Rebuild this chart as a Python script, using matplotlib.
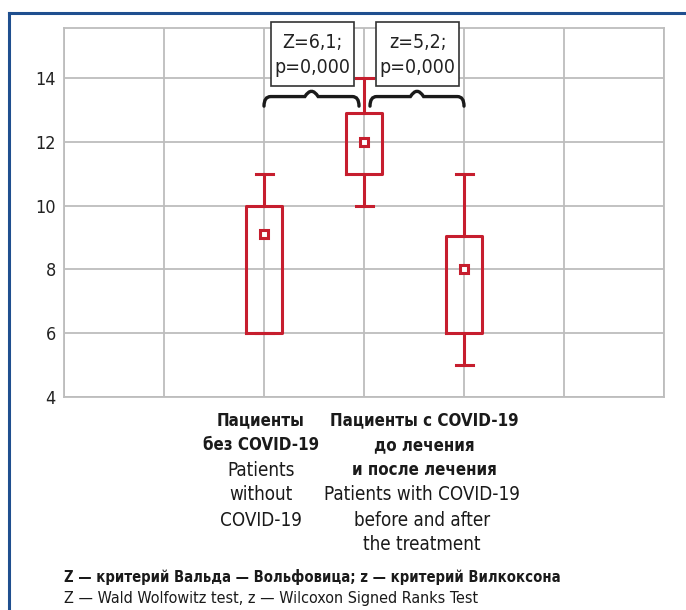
import matplotlib.pyplot as plt
from matplotlib.path import Path
from matplotlib.patches import PathPatch, Rectangle
from matplotlib.lines import Line2D

plt.rcParams['font.family'] = ['DejaVu Sans']
plt.rcParams['font.stretch'] = 'condensed'

# box statistics per group
positions = [2, 3, 4]
whis_lo = [6, 10, 5]
q1 = [6, 11, 6]
q3 = [10, 12.9, 9.05]
whis_hi = [11, 14, 11]
centre = [9.1, 12, 8]

test_top = ["Z=6,1;", "z=5,2;"]
test_bottom = ["p=0,000", "p=0,000"]

group1_bold = ["Пациенты", "без COVID-19"]
group1_reg = ["Patients", "without", "COVID-19"]
group2_bold = ["Пациенты с COVID-19", "до лечения", "и после лечения"]
group2_reg = ["Patients with COVID-19", "before and after", "the treatment"]
footer_bold = "Z — критерий Вальда — Вольфовица; z — критерий Вилкоксона"
footer_reg = "Z — Wald Wolfowitz test, z — Wilcoxon Signed Ranks Test"

red = "#c61e2e"
grid_c = "#bdbdbd"
W, H = 686, 610

fig = plt.figure(figsize=(W / 100, H / 100), dpi=100)
ax = fig.add_axes([64 / W, 1 - 397 / H, 600 / W, 369 / H])

stats = []
for i in range(len(positions)):
    stats.append(dict(med=centre[i], mean=centre[i], q1=q1[i], q3=q3[i],
                      whislo=whis_lo[i], whishi=whis_hi[i], fliers=[]))

ax.bxp(stats, positions=positions, widths=0.36, capwidths=0.17,
       showmeans=True, patch_artist=False,
       boxprops=dict(color=red, lw=2.2),
       whiskerprops=dict(color=red, lw=2.2),
       capprops=dict(color=red, lw=2.2),
       medianprops=dict(visible=False),
       meanprops=dict(marker='s', markersize=6, markerfacecolor='white',
                      markeredgecolor=red, markeredgewidth=2.2))

ax.set_xlim(0, 6)
ax.set_ylim(4, 15.57)
ax.set_xticks(range(0, 7))
ax.set_yticks([4, 6, 8, 10, 12, 14])
ax.set_xticklabels([])
ax.grid(True, color=grid_c, lw=1.3)
ax.set_axisbelow(True)
ax.tick_params(length=0, labelsize=13, pad=6, colors='#222222')
for s in ax.spines.values():
    s.set_color(grid_c)
    s.set_linewidth(1.3)


def brace(x0, x1, y_end, y_arm, y_tip):
    xm = (x0 + x1) / 2
    d = (x1 - x0) * 0.07
    verts = [(x0, y_end), (x0, y_arm), (x0 + d, y_arm), (x0 + 2 * d, y_arm),
             (xm - 2 * d, y_arm), (xm - d, y_arm), (xm, y_tip),
             (xm + d, y_arm), (xm + 2 * d, y_arm),
             (x1 - 2 * d, y_arm), (x1 - d, y_arm), (x1, y_arm), (x1, y_end)]
    codes = [Path.MOVETO, Path.CURVE3, Path.CURVE3, Path.LINETO,
             Path.CURVE3, Path.CURVE3, Path.CURVE3, Path.CURVE3,
             Path.LINETO, Path.CURVE3, Path.CURVE3, Path.CURVE3, Path.CURVE3]
    return PathPatch(Path(verts, codes), fill=False, lw=2.4,
                     edgecolor='#1a1a1a', clip_on=False, capstyle='round')


ax.add_patch(brace(2.0, 2.95, 13.12, 13.42, 13.75))
ax.add_patch(brace(3.06, 4.0, 13.12, 13.42, 13.75))

# test result boxes over the braces
for x0, top, bottom in zip([2.07, 3.12], test_top, test_bottom):
    ax.add_patch(Rectangle((x0, 13.75), 0.83, 2.0, fc='white',
                           ec='#333333', lw=1.2, clip_on=False, zorder=3))
    ax.text(x0 + 0.415, 15.13, top, ha='center', va='center', fontsize=14,
            color='#222222', zorder=4)
    ax.text(x0 + 0.415, 14.34, bottom, ha='center', va='center',
            fontsize=14, color='#222222', zorder=4)


def px_text(x_px, y_px, s, **kw):
    fig.text(x_px / W, 1 - y_px / H, s, color='#1a1a1a', **kw)


for j, s in enumerate(group1_bold):
    px_text(261, 420 + 25 * j, s, ha='center', va='center', fontsize=12.2,
            fontweight='bold')
for j, s in enumerate(group1_reg):
    px_text(261, 470 + 25 * j, s, ha='center', va='center', fontsize=13.5)
for j, s in enumerate(group2_bold):
    px_text(424, 420 + 25 * j, s, ha='center', va='center', fontsize=12.2,
            fontweight='bold')
for j, s in enumerate(group2_reg):
    px_text(422, 495 + 25 * j, s, ha='center', va='center', fontsize=13.5)

px_text(64, 577, footer_bold, ha='left', va='center', fontsize=10.6,
        fontweight='bold')
px_text(64, 598, footer_reg, ha='left', va='center', fontsize=11.5)

# blue frame: top and left edges
fig.add_artist(Line2D([9 / W, 1], [1 - 13 / H, 1 - 13 / H],
                      color='#1f4f8f', lw=2.2, transform=fig.transFigure))
fig.add_artist(Line2D([9 / W, 9 / W], [0, 1 - 13 / H],
                      color='#1f4f8f', lw=2.2, transform=fig.transFigure))

fig.savefig("out.png", dpi=100)
